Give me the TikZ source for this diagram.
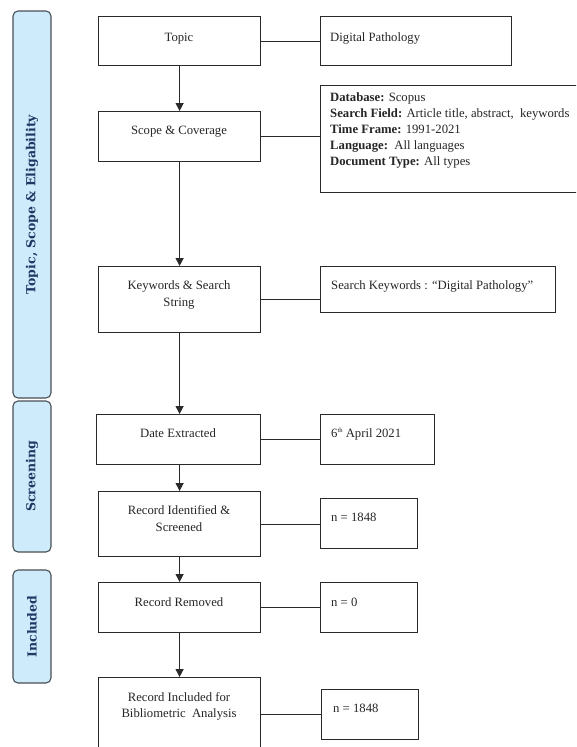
\documentclass[tikz,border=0pt]{standalone}
\usepackage{fontspec}
\setmainfont{Liberation Serif}
\newfontfamily\barfont{DejaVu Serif}
\usetikzlibrary{arrows.meta}
\definecolor{barfill}{HTML}{CDEBFB}
\definecolor{barline}{HTML}{4A4F55}
\definecolor{bartext}{HTML}{1F3864}
\definecolor{edge}{HTML}{2A2A2A}
\begin{document}
\begin{tikzpicture}[x=1pt,y=-1pt,
  box/.style={draw=edge, line width=1.2pt, anchor=north west, inner sep=0pt},
  txt/.style={font=\fontsize{12.7}{16}\selectfont, inner sep=0pt, text=black!85},
  bar/.style={draw=barline, fill=barfill, line width=1.1pt, rounded corners=5pt, rotate=90,
    minimum height=38pt, inner sep=0pt, font=\barfont\bfseries\fontsize{12.5}{14}\selectfont, text=bartext},
  link/.style={draw=edge, line width=1.2pt},
  flow/.style={link, -{Triangle[width=8pt,length=8pt]}}]
\useasboundingbox (0,0) rectangle (576,747);
\clip (0,0) rectangle (576,747);
\fill[white] (0,0) rectangle (576,747);

% side bars
\node[bar, minimum width=387pt] (b1) at (32,204.5) {Topic, Scope \& Eligability};
\node[bar, minimum width=151pt] (b2) at (32,476.5) {Screening};
\node[bar, minimum width=113pt] (b3) at (32,626.5) {Included};

% main column boxes
\node[box, minimum width=162pt, minimum height=49pt] (topic) at (98,16) {};
\node[box, minimum width=162pt, minimum height=50pt] (scope) at (98,111) {};
\node[box, minimum width=162pt, minimum height=66pt] (kw) at (98,266) {};
\node[box, minimum width=164pt, minimum height=50pt] (date) at (96,414) {};
\node[box, minimum width=162pt, minimum height=65pt] (rid) at (98,491) {};
\node[box, minimum width=162pt, minimum height=50pt] (rr) at (98,582) {};
\node[box, minimum width=162pt, minimum height=74pt] (ric) at (98,677) {};

% right column boxes
\node[box, minimum width=191pt, minimum height=49pt] (dp) at (320,16) {};
\node[box, minimum width=270pt, minimum height=107pt] (db) at (320,85) {};
\node[box, minimum width=235pt, minimum height=46pt] (sk) at (320,266) {};
\node[box, minimum width=114pt, minimum height=50pt] (apr) at (320,414) {};
\node[box, minimum width=97pt, minimum height=50pt] (n1) at (320,498) {};
\node[box, minimum width=97pt, minimum height=50pt] (n0) at (320,582) {};
\node[box, minimum width=97pt, minimum height=50pt] (n2) at (321,689) {};

% texts
\node[txt, anchor=base] (ttopic) at (179,41) {Topic};
\node[txt, anchor=base] (tscope) at (179,134) {Scope \& Coverage};
\node[txt, anchor=north, align=center, font=\fontsize{12.7}{17}\selectfont] (tkw) at (179,280) {Keywords \& Search\\String};
\node[txt, anchor=base] (tdate) at (178,437) {Date Extracted};
\node[txt, anchor=north, align=center, font=\fontsize{12.7}{17}\selectfont] (trid) at (179,505) {Record Identified \&\\Screened};
\node[txt, anchor=base] (trr) at (179,606) {Record Removed};
\node[txt, anchor=north, align=center] (tric) at (179,692) {Record Included for\\Bibliometric\ \ Analysis};

\node[txt, anchor=base west] (tdp) at (330,41) {Digital Pathology};
\node[txt, anchor=north west, align=left] (tdb) at (330,92) {\textbf{Database:} Scopus\\
\textbf{Search Field:} Article title, abstract,\ \ keywords\\
\textbf{Time Frame:} 1991-2021\\
\textbf{Language:}\ \ All languages\\
\textbf{Document Type:} All types};
\node[txt, anchor=base west] (tsk) at (331,289) {Search Keywords : “Digital Pathology”};
\node[txt, anchor=base west] (tapr) at (331,437) {6\raisebox{4.5pt}{\fontsize{6.5}{7}\selectfont th} April 2021};
\node[txt, anchor=base west] (tn1) at (331,521) {n = 1848};
\node[txt, anchor=base west] (tn0) at (331,606) {n = 0};
\node[txt, anchor=base west] (tn2) at (333,712) {n = 1848};

% horizontal links
\draw[link] (topic.east) -- (topic.east -| dp.west);
\draw[link] (scope.east) -- (scope.east -| db.west);
\draw[link] (kw.east) -- (kw.east -| sk.west);
\draw[link] (date.east) -- (date.east -| apr.west);
\draw[link] (rid.east) -- (rid.east -| n1.west);
\draw[link] (rr.east) -- (rr.east -| n0.west);
\draw[link] (ric.east) -- (ric.east -| n2.west);

% flow arrows
\draw[flow] (topic.south) -- (scope.north);
\draw[flow] (scope.south) -- (kw.north);
\draw[flow] (kw.south) -- (kw.south |- date.north);
\draw[flow] (rid.south |- date.south) -- (rid.north);
\draw[flow] (rid.south) -- (rr.north);
\draw[flow] (rr.south) -- (ric.north);
\end{tikzpicture}
\end{document}
